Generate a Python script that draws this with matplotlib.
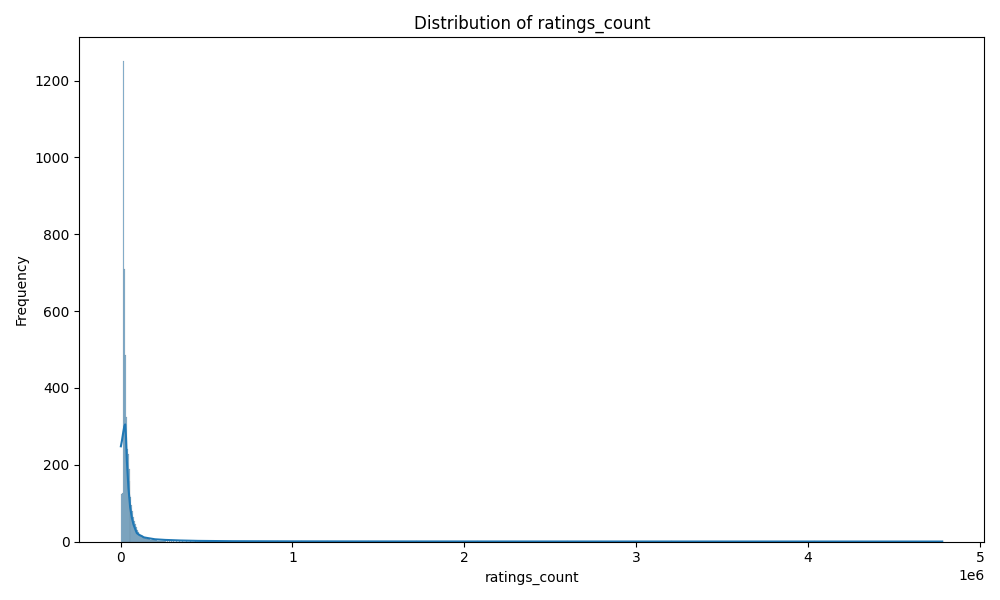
import numpy as np
import matplotlib
matplotlib.use("Agg")
import matplotlib.pyplot as plt

# histogram bins: width 5800, first edge at 0
bin_start = 0
bin_width = 5800
n_bins = 825

# counts of the first bins
head_counts = [124, 126, 1250, 710, 485, 325, 240, 227, 190, 158,
               115, 95, 80, 65, 54, 45, 37, 30, 24, 20,
               17, 15, 13, 12, 11, 9, 8, 7, 6, 6,
               5, 4.5, 4, 4, 3, 3, 3, 2, 2, 2,
               2, 1, 2, 1, 1, 1]

# isolated books in the long tail: bin index -> count
tail_bins = [47, 49, 51, 53, 56, 59, 62, 66, 70, 75, 80, 86, 92, 100,
             110, 124, 138, 157, 181, 207, 248, 296, 358, 448, 552, 696,
             824]
tail_counts = [1] * len(tail_bins)

# kde curve (ratings_count, scaled to counts)
kde_x = [2000, 8000, 16000, 22000, 27000, 32000, 37000, 46000, 56000, 66000,
         75000, 85000, 95000, 110000, 125000, 135000, 160000, 200000, 260000,
         350000, 450000, 650000, 1000000, 1500000, 2000000, 3000000,
         4000000, 4780000]
kde_y = [248, 262, 285, 300, 305, 270, 209, 140, 89, 62,
         45, 33, 22, 17, 14, 11, 9, 6, 4.3,
         2.8, 1.8, 1.0, 0.6, 0.4, 0.3, 0.2,
         0.15, 0.1]

counts = np.zeros(n_bins)
counts[:len(head_counts)] = head_counts
for b, c in zip(tail_bins, tail_counts):
    counts[b] += c
edges = bin_start + bin_width * np.arange(n_bins + 1)

fig, ax = plt.subplots(figsize=(10, 6))
# seaborn-like bars: translucent fill, hairline black edges
ax.bar(edges[:-1], counts, width=bin_width, align="edge",
       facecolor=(0.122, 0.467, 0.706, 0.5), edgecolor="black",
       linewidth=0.05)
ax.plot(kde_x, kde_y, color="C0", linewidth=1.5)
ax.set_title("Distribution of ratings_count")
ax.set_xlabel("ratings_count")
ax.set_ylabel("Frequency")
plt.tight_layout()
plt.savefig("out.png", dpi=100)
